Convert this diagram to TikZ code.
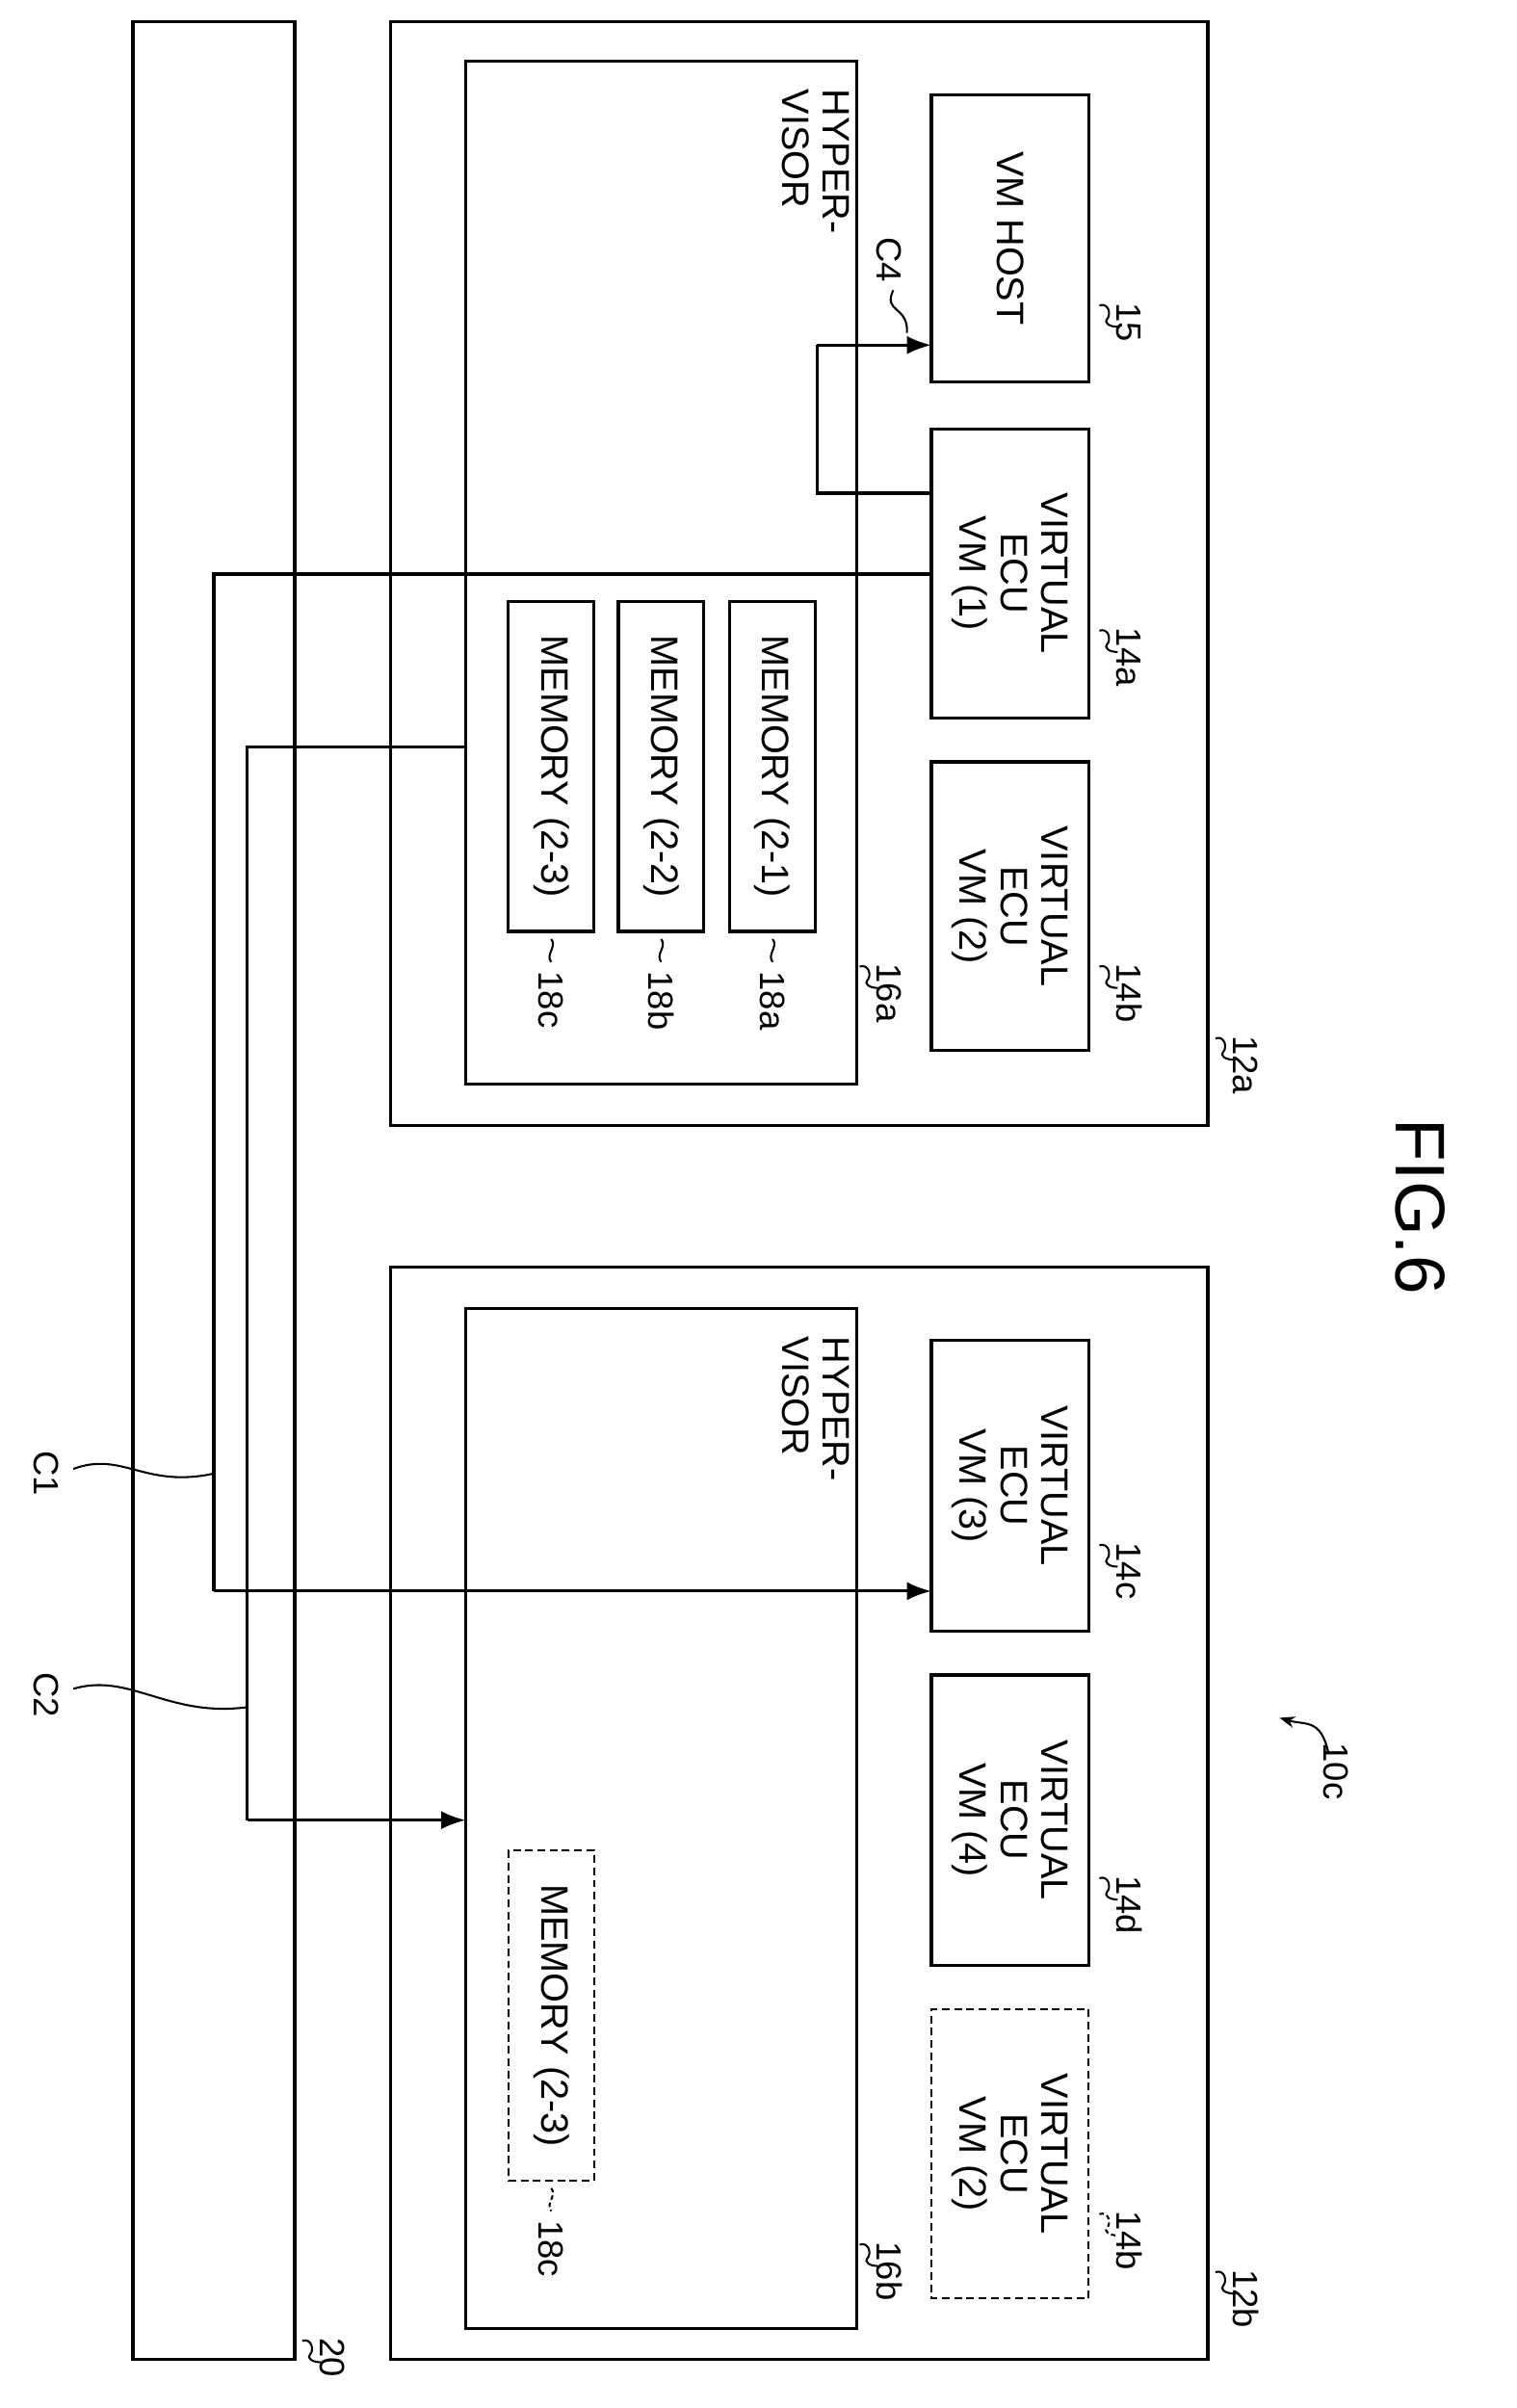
\documentclass[tikz,border=0pt]{standalone}
\usepackage{fontspec}
\setmainfont{Liberation Sans}
\usetikzlibrary{arrows.meta}
\begin{document}
\begin{tikzpicture}[x=1pt,y=-1pt,
  box/.style={draw,line width=2pt},
  dbox/.style={draw,line width=1.3pt,dash pattern=on 5pt off 3pt},
  txt/.style={rotate=-90,font=\fontsize{25}{27}\selectfont,align=center},
  wire/.style={line width=2pt},
  arr/.style={line width=2pt,-{Latex[length=16pt,width=12pt]}},
  sq/.style={line width=1.3pt}]
\useasboundingbox (0,0) rectangle (993,1577);
% bus 20
\node[box,minimum width=106pt,minimum height=1531pt,inner sep=0] (bus) at (140,779.5) {};
% ECU 12a
\node[box,minimum width=535pt,minimum height=723pt,inner sep=0] (e12a) at (523.5,375.5) {};
\node[box,minimum width=256pt,minimum height=670pt,inner sep=0] (h16a) at (433,375) {};
\node[txt,anchor=north west,align=left] (hv1) at (560,55) {HYPER-\\VISOR};
\node[box,minimum height=103pt,minimum width=188pt,inner sep=0,txt] (vmh) at (661.5,156) {VM HOST};
\node[box,minimum height=103pt,minimum width=189pt,inner sep=0,txt] (v1) at (661.5,375.5) {VIRTUAL\\ECU\\VM (1)};
\node[box,minimum height=103pt,minimum width=189pt,inner sep=0,txt] (v2) at (661.5,593.5) {VIRTUAL\\ECU\\VM (2)};
\node[box,minimum height=56pt,minimum width=216pt,inner sep=0,txt] (m1) at (506,502) {MEMORY (2-1)};
\node[box,minimum height=56pt,minimum width=216pt,inner sep=0,txt] (m2) at (433,502) {MEMORY (2-2)};
\node[box,minimum height=56pt,minimum width=216pt,inner sep=0,txt] (m3) at (361,502) {MEMORY (2-3)};
% ECU 12b
\node[box,minimum width=535pt,minimum height=715pt,inner sep=0] (e12b) at (523.5,1187.5) {};
\node[box,minimum width=256pt,minimum height=668pt,inner sep=0] (h16b) at (433,1191) {};
\node[txt,anchor=north west,align=left] (hv2) at (560,872) {HYPER-\\VISOR};
\node[box,minimum height=103pt,minimum width=190pt,inner sep=0,txt] (v3) at (661.5,973) {VIRTUAL\\ECU\\VM (3)};
\node[box,minimum height=103pt,minimum width=190pt,inner sep=0,txt] (v4) at (661.5,1192) {VIRTUAL\\ECU\\VM (4)};
\node[dbox,minimum height=103pt,minimum width=189pt,inner sep=0,txt] (v2b) at (661.5,1410.5) {VIRTUAL\\ECU\\VM (2)};
\node[dbox,minimum height=56pt,minimum width=216pt,inner sep=0,txt] (m3b) at (361,1320) {MEMORY (2-3)};
% FIG
\node[rotate=-90,font=\fontsize{46}{48}\selectfont] (fig) at (930,790) {FIG.6};
% edge points
\coordinate (v1e1) at (610,323);
\coordinate (c4a) at (535,323);
\coordinate (c4b) at (535,226);
\coordinate (vmhe) at (610,226);
\coordinate (v1e2) at (610,376);
\coordinate (c1a) at (140,376);
\coordinate (c1b) at (140,1042);
\coordinate (v3e) at (610,1042);
\coordinate (h16ae) at (305,489);
\coordinate (c2a) at (162,489);
\coordinate (c2b) at (162,1192);
\coordinate (h16be) at (305,1192);
\draw[wire] (v1e1) -- (c4a) -- (c4b);
\draw[arr] (c4b) -- (vmhe);
\draw[wire] (v1e2) -- (c1a) -- (c1b);
\draw[arr] (c1b) -- (v3e);
\draw[wire] (h16ae) -- (c2a) -- (c2b);
\draw[arr] (c2b) -- (h16be);
% tags
\newcommand{\tagS}[4]{%
 \draw[sq,#4] (#1,#2) .. controls (#1+6,#2-2) and (#1+8,#2+6) .. (#1+5,#2+9) .. controls (#1+3,#2+11) and (#1+6,#2+14) .. (#1+12,#2+14);
 \node[rotate=-90,font=\fontsize{23}{25}\selectfont,anchor=south west,inner sep=1pt] at (#1+10,#2-3) {#3};}
\tagS{720}{200}{15}{}
\tagS{720}{413}{14a}{}
\tagS{720}{633}{14b}{}
\tagS{796}{680}{12a}{}
\tagS{563}{633}{16a}{}
\tagS{720}{1012}{14c}{}
\tagS{720}{1230}{14d}{}
\tagS{720}{1450}{14b}{dash pattern=on 3pt off 2pt}
\tagS{796}{1488}{12b}{}
\tagS{563}{1470}{16b}{}
\tagS{198}{1533}{20}{}
\newcommand{\tagM}[4]{%
 \draw[sq,#4] (#1,#2) .. controls (#1+4,#2+5) and (#1-4,#2+10) .. (#1,#2+15);
 \node[rotate=-90,font=\fontsize{23}{25}\selectfont,anchor=west,inner sep=1pt] at (#1,#2+20) {#3};}
\tagM{506}{615}{18a}{}
\tagM{433}{615}{18b}{}
\tagM{361}{615}{18c}{}
\tagM{361}{1433}{18c}{dash pattern=on 3pt off 2pt}
% C labels
\node[rotate=-90,font=\fontsize{23}{25}\selectfont] (lc1) at (30,965) {C1};
\draw[sq] (48,962) .. controls (80,950) and (95,975) .. (140,965);
\node[rotate=-90,font=\fontsize{23}{25}\selectfont] (lc2) at (30,1110) {C2};
\draw[sq] (48,1106) .. controls (85,1095) and (110,1125) .. (162,1118);
\node[rotate=-90,font=\fontsize{23}{25}\selectfont] (lc4) at (582,170) {C4};
\draw[sq] (585,190) .. controls (578,205) and (595,200) .. (594,218);
% 10c
\node[rotate=-90,font=\fontsize{23}{25}\selectfont] (l10) at (875,1160) {10c};
\draw[line width=1.3pt,-{Stealth[length=10pt]}] (870,1148) .. controls (865,1125) and (855,1130) .. (838,1125);
\end{tikzpicture}
\end{document}
